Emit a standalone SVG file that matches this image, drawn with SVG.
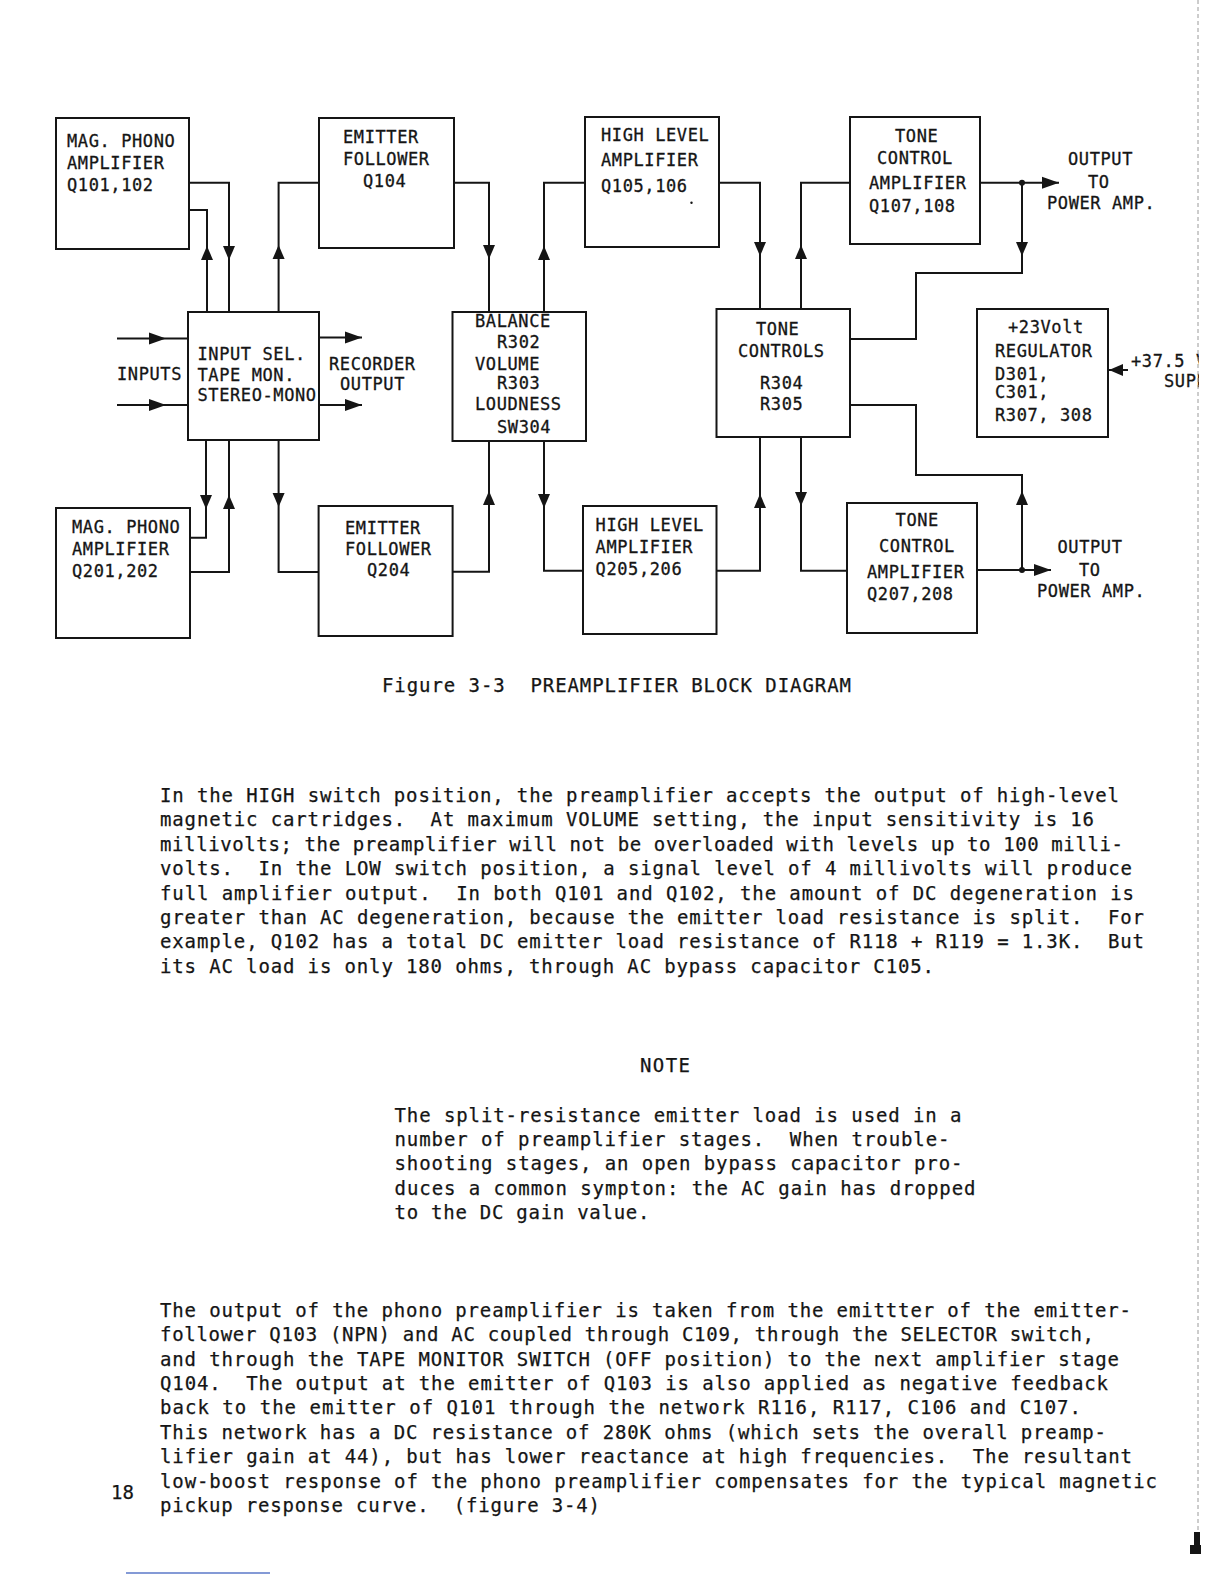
<svg xmlns="http://www.w3.org/2000/svg" xmlns:xlink="http://www.w3.org/1999/xlink" width="1224" height="1584" viewBox="0 0 1224 1584" xml:space="preserve">
<defs>
<style>
.box{fill:none;stroke:#151515;stroke-width:2}
.wire{fill:none;stroke:#151515;stroke-width:2}
.arr{fill:#151515}
.lbl{font-family:"DejaVu Sans Mono","Liberation Mono",monospace;font-size:17px;letter-spacing:0.6px;fill:#151515;stroke:#151515;stroke-width:0.3px;white-space:pre}
.body{font-family:"DejaVu Sans Mono","Liberation Mono",monospace;font-size:19px;fill:#151515;stroke:#151515;stroke-width:0.25px;white-space:pre}
</style>
<path id="ad" d="M-6,-14 L6,-14 L0,0 Z"/>
<path id="au" d="M-6,14 L6,14 L0,0 Z"/>
<path id="ar" d="M-17,-6 L-17,6 L0,0 Z"/>
<path id="al" d="M14,-6 L14,6 L0,0 Z"/>
<clipPath id="pg"><rect x="0" y="0" width="1199" height="1584"/></clipPath>
</defs>
<rect x="0" y="0" width="1224" height="1584" fill="#ffffff"/>

<g id="connectors">
<path class="wire" d="M189,182.7 H229 V312"/>
<path class="wire" d="M189,210 H207 V312"/>
<path class="wire" d="M278.6,312 V182.7 H319"/>
<path class="wire" d="M454,182.7 H489 V312"/>
<path class="wire" d="M544,312 V182.7 H586"/>
<path class="wire" d="M719,182.7 H760 V309"/>
<path class="wire" d="M801,309 V182.7 H850"/>
<path class="wire" d="M980,182.7 H1059"/>
<path class="wire" d="M1022,182.7 V273 H916 V339 H850"/>
<path class="wire" d="M117,338.5 H188"/>
<path class="wire" d="M117,405 H188"/>
<path class="wire" d="M319,337.5 H362"/>
<path class="wire" d="M319,405 H362"/>
<path class="wire" d="M1108,370 H1128"/>
<path class="wire" d="M206,441 V537.7 H190"/>
<path class="wire" d="M190,572 H229 V441"/>
<path class="wire" d="M278.6,441 V572 H318.6"/>
<path class="wire" d="M452.5,571.7 H489 V441"/>
<path class="wire" d="M544,441 V570.7 H583"/>
<path class="wire" d="M716.5,570.7 H760 V437"/>
<path class="wire" d="M801,437 V570.7 H847"/>
<path class="wire" d="M977,570 H1051"/>
<path class="wire" d="M850,405 H916 V475 H1022 V570"/>
<use xlink:href="#ad" class="arr" x="229" y="260"/>
<use xlink:href="#au" class="arr" x="207" y="246"/>
<use xlink:href="#au" class="arr" x="278.6" y="245"/>
<use xlink:href="#ad" class="arr" x="489" y="259"/>
<use xlink:href="#au" class="arr" x="544" y="246"/>
<use xlink:href="#ad" class="arr" x="760" y="256"/>
<use xlink:href="#au" class="arr" x="801" y="245"/>
<use xlink:href="#ad" class="arr" x="1022" y="256"/>
<use xlink:href="#ar" class="arr" x="1059" y="182.7"/>
<circle class="arr" cx="1022" cy="182.7" r="3"/>
<use xlink:href="#ar" class="arr" x="166" y="338.5"/>
<use xlink:href="#ar" class="arr" x="166" y="405"/>
<use xlink:href="#ar" class="arr" x="362" y="337.5"/>
<use xlink:href="#ar" class="arr" x="362" y="405"/>
<use xlink:href="#al" class="arr" x="1109" y="370"/>
<use xlink:href="#ad" class="arr" x="206" y="509"/>
<use xlink:href="#au" class="arr" x="229" y="495"/>
<use xlink:href="#ad" class="arr" x="278.6" y="507"/>
<use xlink:href="#au" class="arr" x="489" y="491"/>
<use xlink:href="#ad" class="arr" x="544" y="508"/>
<use xlink:href="#au" class="arr" x="760" y="494"/>
<use xlink:href="#ad" class="arr" x="801" y="506"/>
<use xlink:href="#au" class="arr" x="1022" y="491"/>
<use xlink:href="#ar" class="arr" x="1051" y="570"/>
<circle class="arr" cx="1022" cy="570" r="3"/>
</g>

<g id="mag-phono-1">
<rect class="box" x="56" y="118" width="133" height="131"/>
<text class="lbl" x="67" y="147.3">MAG. PHONO</text>
<text class="lbl" x="67" y="169">AMPLIFIER</text>
<text class="lbl" x="67" y="191">Q101,102</text>
</g>
<g id="emitter-follower-1">
<rect class="box" x="319" y="118" width="135" height="130"/>
<text class="lbl" x="343" y="143.3">EMITTER</text>
<text class="lbl" x="343" y="165">FOLLOWER</text>
<text class="lbl" x="363" y="186.7">Q104</text>
</g>
<g id="high-level-1">
<rect class="box" x="585" y="117" width="134" height="130"/>
<text class="lbl" x="601" y="140.7">HIGH LEVEL</text>
<text class="lbl" x="601" y="165.7">AMPLIFIER</text>
<text class="lbl" x="601" y="191.7">Q105,106</text>
<circle class="arr" cx="691.5" cy="202.7" r="1.2"/>
</g>
<g id="tone-control-amp-1">
<rect class="box" x="850" y="117" width="130" height="127"/>
<text class="lbl" x="895" y="141.7">TONE</text>
<text class="lbl" x="877" y="164">CONTROL</text>
<text class="lbl" x="869" y="189">AMPLIFIER</text>
<text class="lbl" x="869" y="212.3">Q107,108</text>
</g>
<g id="output-1">
<text class="lbl" x="1068" y="165">OUTPUT</text>
<text class="lbl" x="1088" y="188">TO</text>
<text class="lbl" x="1047" y="209">POWER AMP.</text>
</g>
<g id="inputs">
<text class="lbl" x="117" y="380">INPUTS</text>
</g>
<g id="input-selector">
<rect class="box" x="188" y="312" width="131" height="128"/>
<text class="lbl" x="197.5" y="359.5">INPUT SEL.</text>
<text class="lbl" x="197.5" y="381">TAPE MON.</text>
<text class="lbl" x="197.5" y="400.5">STEREO-MONO</text>
</g>
<g id="recorder-output">
<text class="lbl" x="329" y="370">RECORDER</text>
<text class="lbl" x="340" y="390">OUTPUT</text>
</g>
<g id="balance-volume">
<rect class="box" x="452.5" y="312" width="133.5" height="129"/>
<text class="lbl" x="475" y="326.7">BALANCE</text>
<text class="lbl" x="497" y="348">R302</text>
<text class="lbl" x="475" y="370">VOLUME</text>
<text class="lbl" x="497" y="389">R303</text>
<text class="lbl" x="475" y="410">LOUDNESS</text>
<text class="lbl" x="497" y="433">SW304</text>
</g>
<g id="tone-controls">
<rect class="box" x="716.5" y="309" width="133.5" height="128"/>
<text class="lbl" x="756" y="335">TONE</text>
<text class="lbl" x="738" y="356.7">CONTROLS</text>
<text class="lbl" x="760" y="389">R304</text>
<text class="lbl" x="760" y="410">R305</text>
</g>
<g id="regulator">
<rect class="box" x="977" y="309" width="131" height="128"/>
<text class="lbl" x="1008" y="333">+23Volt</text>
<text class="lbl" x="995" y="357">REGULATOR</text>
<text class="lbl" x="995" y="380">D301,</text>
<text class="lbl" x="995" y="398">C301,</text>
<text class="lbl" x="995" y="420.7">R307, 308</text>
</g>
<g id="supply" clip-path="url(#pg)">
<text class="lbl" x="1131" y="366.7">+37.5 V</text>
<text class="lbl" x="1164" y="387">SUPP</text>
</g>
<g id="mag-phono-2">
<rect class="box" x="56" y="508" width="134" height="130"/>
<text class="lbl" x="72" y="532.7">MAG. PHONO</text>
<text class="lbl" x="72" y="555">AMPLIFIER</text>
<text class="lbl" x="72" y="576.7">Q201,202</text>
</g>
<g id="emitter-follower-2">
<rect class="box" x="318.6" y="506" width="134" height="130"/>
<text class="lbl" x="345" y="534">EMITTER</text>
<text class="lbl" x="345" y="555">FOLLOWER</text>
<text class="lbl" x="367" y="576">Q204</text>
</g>
<g id="high-level-2">
<rect class="box" x="583" y="506" width="133.5" height="128"/>
<text class="lbl" x="595.6" y="530.7">HIGH LEVEL</text>
<text class="lbl" x="595.6" y="552.7">AMPLIFIER</text>
<text class="lbl" x="595.6" y="575">Q205,206</text>
</g>
<g id="tone-control-amp-2">
<rect class="box" x="847" y="503" width="130" height="130"/>
<text class="lbl" x="895.6" y="526">TONE</text>
<text class="lbl" x="879" y="551.7">CONTROL</text>
<text class="lbl" x="867" y="578">AMPLIFIER</text>
<text class="lbl" x="867" y="600">Q207,208</text>
</g>
<g id="output-2">
<text class="lbl" x="1057.5" y="553">OUTPUT</text>
<text class="lbl" x="1079" y="576">TO</text>
<text class="lbl" x="1037" y="596.7">POWER AMP.</text>
</g>

<g id="caption">
<text class="body" x="382" y="692" textLength="469" lengthAdjust="spacing">Figure 3-3  PREAMPLIFIER BLOCK DIAGRAM</text>
</g>

<g id="paragraph-1">
<text class="body" x="160" y="802" textLength="959" lengthAdjust="spacing">In the HIGH switch position, the preamplifier accepts the output of high-level</text>
<text class="body" x="160" y="826.4" textLength="934" lengthAdjust="spacing">magnetic cartridges.  At maximum VOLUME setting, the input sensitivity is 16</text>
<text class="body" x="160" y="850.8" textLength="963" lengthAdjust="spacing">millivolts; the preamplifier will not be overloaded with levels up to 100 milli-</text>
<text class="body" x="160" y="875.2" textLength="972" lengthAdjust="spacing">volts.  In the LOW switch position, a signal level of 4 millivolts will produce</text>
<text class="body" x="160" y="899.6" textLength="974" lengthAdjust="spacing">full amplifier output.  In both Q101 and Q102, the amount of DC degeneration is</text>
<text class="body" x="160" y="924" textLength="984" lengthAdjust="spacing">greater than AC degeneration, because the emitter load resistance is split.  For</text>
<text class="body" x="160" y="948.4" textLength="984" lengthAdjust="spacing">example, Q102 has a total DC emitter load resistance of R118 + R119 = 1.3K.  But</text>
<text class="body" x="160" y="972.8" textLength="774" lengthAdjust="spacing">its AC load is only 180 ohms, through AC bypass capacitor C105.</text>
</g>

<g id="note">
<text class="body" x="640" y="1071.5" textLength="50" lengthAdjust="spacing">NOTE</text>
<text class="body" x="394.5" y="1121.5" textLength="567" lengthAdjust="spacing">The split-resistance emitter load is used in a</text>
<text class="body" x="394.5" y="1145.9" textLength="555" lengthAdjust="spacing">number of preamplifier stages.  When trouble-</text>
<text class="body" x="394.5" y="1170.3" textLength="568" lengthAdjust="spacing">shooting stages, an open bypass capacitor pro-</text>
<text class="body" x="394.5" y="1194.7" textLength="581" lengthAdjust="spacing">duces a common sympton: the AC gain has dropped</text>
<text class="body" x="394.5" y="1219.1" textLength="255" lengthAdjust="spacing">to the DC gain value.</text>
</g>

<g id="paragraph-3">
<text class="body" x="160" y="1316.7" textLength="971" lengthAdjust="spacing">The output of the phono preamplifier is taken from the emittter of the emitter-</text>
<text class="body" x="160" y="1341.1" textLength="934" lengthAdjust="spacing">follower Q103 (NPN) and AC coupled through C109, through the SELECTOR switch,</text>
<text class="body" x="160" y="1365.5" textLength="959" lengthAdjust="spacing">and through the TAPE MONITOR SWITCH (OFF position) to the next amplifier stage</text>
<text class="body" x="160" y="1389.9" textLength="948" lengthAdjust="spacing">Q104.  The output at the emitter of Q103 is also applied as negative feedback</text>
<text class="body" x="160" y="1414.3" textLength="921" lengthAdjust="spacing">back to the emitter of Q101 through the network R116, R117, C106 and C107.</text>
<text class="body" x="160" y="1438.7" textLength="946" lengthAdjust="spacing">This network has a DC resistance of 280K ohms (which sets the overall preamp-</text>
<text class="body" x="160" y="1463.1" textLength="972" lengthAdjust="spacing">lifier gain at 44), but has lower reactance at high frequencies.  The resultant</text>
<text class="body" x="160" y="1487.5" textLength="997" lengthAdjust="spacing">low-boost response of the phono preamplifier compensates for the typical magnetic</text>
<text class="body" x="160" y="1511.9" textLength="440" lengthAdjust="spacing">pickup response curve.  (figure 3-4)</text>
</g>

<g id="page-number">
<text class="body" x="111" y="1499">18</text>
</g>

<g id="page-marks">
<line x1="1198" y1="0" x2="1198" y2="1545" stroke="#9a9a9a" stroke-width="1" stroke-dasharray="4 3"/>
<path d="M1194,1532 H1200 V1545 H1201 V1554 H1190 V1545 H1194 Z" fill="#151515"/>
<line x1="126" y1="1573" x2="270" y2="1573" stroke="#5b78c8" stroke-width="1.5"/>
</g>
</svg>
